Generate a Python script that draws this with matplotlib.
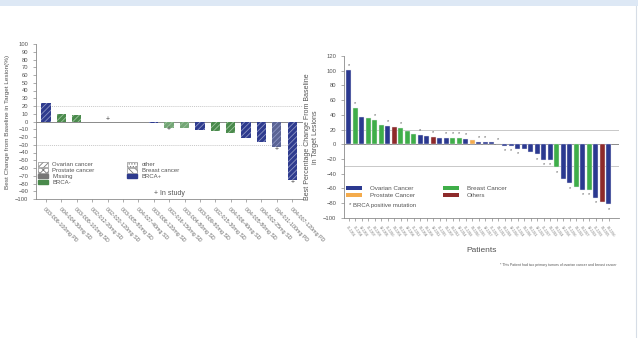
import matplotlib.pyplot as plt
from matplotlib.patches import Patch, Rectangle

# left panel: phase I dose escalation cohort
left_ids = ["003-006-100mg PD", "004-004-30mg SD", "003-008-100mg SD", "002-012-20mg SD",
            "002-020-120mg SD", "003-005-80mg SD", "004-027-40mg SD", "003-006-120mg SD",
            "002-016-150mg SD", "003-004-80mg SD", "003-009-80mg SD", "002-015-30mg SD",
            "004-006-40mg SD", "004-005-80mg SD", "004-002-25mg SD", "004-011-100mg PD",
            "004-007-120mg PD"]
left_change = [23.8, 9.5, 8.2, 0, 0, 0, 0, -2.0, -7.8, -8.7, -10.4, -12.6, -14.3,
               -21.2, -26.4, -32.9, -75.7]
left_group = ["brca+", "brca-", "brca-", "none", "none", "none", "none", "brca+",
              "brca-l", "brca-l", "brca+", "brca-", "brca-", "brca+", "brca+", "missing", "brca+"]
left_in_study = [4, 8, 15, 16]

# right panel: expansion cohort by tumour type
right_ids = ["01-1001", "01-1004", "02-1002", "01-1007", "03-1003", "02-1005", "01-1010",
             "04-1001", "03-1006", "02-1008", "01-1012", "04-1004", "03-1009", "02-1011",
             "01-1015", "04-1007", "03-1012", "02-1014", "01-1018", "04-1010", "03-1015",
             "02-1017", "01-1021", "04-1013", "03-1018", "02-1020", "01-1024", "04-1016",
             "03-1021", "02-1023", "01-1027", "04-1019", "03-1024", "02-1026", "01-1030",
             "04-1022", "03-1027", "02-1029", "01-1033", "04-1025", "03-1030"]
right_change = [101, 49.4, 36.7, 36, 32.6, 26.3, 25, 24, 22.7, 18.6, 13.6, 13, 11.3, 10,
                8.6, 8.6, 8.6, 8.6, 6.8, 5.4, 3.6, 3.6, 2.7, 0.5, -2.3, -2.3, -6.3, -6.3,
                -10.4, -14, -21.3, -21.3, -31.7, -47.6, -53, -58, -62, -62, -72.6, -78.9, -81.6]
right_type = ["ovarian", "breast", "ovarian", "breast", "breast", "breast", "ovarian", "other",
              "breast", "breast", "breast", "ovarian", "ovarian", "other", "ovarian", "ovarian",
              "breast", "breast", "ovarian", "prostate", "ovarian", "ovarian", "ovarian", "ovarian",
              "ovarian", "ovarian", "ovarian", "ovarian", "ovarian", "ovarian", "ovarian", "ovarian",
              "breast", "ovarian", "ovarian", "breast", "ovarian", "breast", "ovarian", "other",
              "ovarian"]
right_brca = [0, 1, 4, 6, 8, 11, 13, 15, 16, 17, 18, 20, 21, 23, 24, 25, 26, 29, 30, 31,
              32, 34, 36, 37, 38, 40]

left_colors = {"brca+": "#2e3b8e", "brca-": "#4a8a4c", "brca-l": "#74a676",
               "missing": "#5b6494", "none": "#ffffff"}
type_colors = {"ovarian": "#2b3990", "breast": "#3fae49", "prostate": "#f4ab4c",
               "other": "#8e2a2a"}
grid_grey = "#c8c8c8"
axis_grey = "#8a8a8a"
text_grey = "#555555"

plt.rcParams["font.family"] = ["Liberation Sans", "DejaVu Sans"]
plt.rcParams["hatch.linewidth"] = 0.6

fig = plt.figure(figsize=(6.38, 3.38), dpi=100)
fig.patches.append(Rectangle((0, 1 - 6 / 338), 1, 6 / 338, transform=fig.transFigure,
                             facecolor="#dde8f5", edgecolor="none"))
fig.add_artist(plt.Line2D([0.997, 0.997], [0, 1 - 6 / 338], transform=fig.transFigure,
                          color="#d6dde6", lw=0.8))


def style_axes(ax):
    for side in ("top", "right"):
        ax.spines[side].set_visible(False)
    for side in ("left", "bottom"):
        ax.spines[side].set_color(axis_grey)
        ax.spines[side].set_linewidth(0.6)
    ax.tick_params(colors=axis_grey, labelcolor=text_grey, width=0.5, length=2, labelsize=4.2)


# ---- left waterfall ----
ax1 = fig.add_axes([36 / 638, 1 - 199 / 338, 267 / 638, 155 / 338])
style_axes(ax1)
xs = list(range(len(left_change)))
for x, v, g in zip(xs, left_change, left_group):
    if g == "none":
        continue
    c = left_colors[g]
    ax1.bar(x, v, width=0.6, color=c, hatch="//////", edgecolor="#8d95c4" if "brca+" in g or g == "missing" else "#9cc39d",
            linewidth=0, zorder=3)
ax1.axhline(0, color=axis_grey, lw=0.7, zorder=2)
ax1.axhline(20, color=grid_grey, lw=0.7, ls=(0, (1, 1)), zorder=1)
ax1.axhline(-30, color=grid_grey, lw=0.7, ls=(0, (1, 1)), zorder=1)
for i in left_in_study:
    v = left_change[i]
    y = 2 if v >= 0 else v - 3
    ax1.text(i, y, "+", ha="center", va="center", fontsize=5, color="#444444", zorder=4)
ax1.set_ylim(-100, 100)
ax1.set_yticks(range(-100, 101, 10))
ax1.set_xlim(-0.65, 16.7)
ax1.set_xticks(xs)
ax1.set_xticklabels(left_ids, rotation=-45, ha="left", va="top", rotation_mode="anchor",
                    fontsize=3.8, color="#666666")
ax1.set_ylabel("Best Change from Baseline in Target Lesion(%)", fontsize=4.6,
               color=text_grey, labelpad=4)
ax1.text(7.0, -98, "+ In study", fontsize=5, color=text_grey, ha="left", va="bottom")

left_handles = [
    Patch(facecolor="white", edgecolor="#777777", hatch="//////", lw=0.4, label="Ovarian cancer"),
    Patch(facecolor="white", edgecolor="#777777", hatch="xxxxx", lw=0.4, label="Prostate cancer"),
    Patch(facecolor="#777777", edgecolor="#777777", label="Missing"),
    Patch(facecolor="#4a8a4c", edgecolor="#4a8a4c", label="BRCA-"),
    Patch(facecolor="white", edgecolor="#777777", hatch="......", lw=0.4, label="other"),
    Patch(facecolor="white", edgecolor="#777777", hatch="\\\\\\\\\\", lw=0.4, label="Breast cancer"),
    Patch(facecolor="#2e3b8e", edgecolor="#2e3b8e", label="BRCA+"),
]
leg1 = fig.legend(handles=left_handles, ncol=2, loc="upper left",
                  bbox_to_anchor=(38 / 638, 1 - 162 / 338), frameon=False, fontsize=4.3,
                  handlelength=1.6, handleheight=0.8, labelspacing=0.1, columnspacing=5.5,
                  handletextpad=0.8, borderaxespad=0, borderpad=0)
for t in leg1.get_texts():
    t.set_color(text_grey)

# ---- right waterfall ----
ax2 = fig.add_axes([344 / 638, 1 - 217.7 / 338, 275 / 638, 161.7 / 338])
style_axes(ax2)
xr = list(range(len(right_change)))
ax2.bar(xr, right_change, width=0.77, color=[type_colors[t] for t in right_type],
        edgecolor="#e8e8f0", linewidth=0.3, zorder=3)
ax2.axhline(0, color=axis_grey, lw=0.7, zorder=2)
ax2.axhline(20, color=grid_grey, lw=0.7, zorder=1)
ax2.axhline(-30, color=grid_grey, lw=0.7, zorder=1)
for i in right_brca:
    v = right_change[i]
    y = v + 6 if v > 0 else v - 7
    ax2.text(i, y, "*", ha="center", va="center", fontsize=4, color="#555555", zorder=4)
ax2.set_ylim(-100, 120)
ax2.set_yticks(range(-100, 121, 20))
ax2.set_xlim(-0.7, 41.6)
ax2.set_xticks(xr)
ax2.set_xticklabels(right_ids, rotation=-55, ha="left", va="top", rotation_mode="anchor",
                    fontsize=2.4, color="#777777")
ax2.set_ylabel("Best Percentage Change From Baseline\nin Target Lesions", fontsize=5,
               color=text_grey, labelpad=3)
ax2.set_xlabel("Patients", fontsize=6, color=text_grey, labelpad=7)

right_handles = [Patch(facecolor=type_colors["ovarian"], label="Ovarian Cancer"),
                 Patch(facecolor=type_colors["prostate"], label="Prostate Cancer"),
                 Patch(facecolor=type_colors["breast"], label="Breast Cancer"),
                 Patch(facecolor=type_colors["other"], label="Others")]
leg2 = fig.legend(handles=right_handles, ncol=2, loc="upper left",
                  bbox_to_anchor=(346 / 638, 1 - 186 / 338), frameon=False, fontsize=4.5,
                  handlelength=2.6, handleheight=0.7, labelspacing=0.25, columnspacing=4.5,
                  handletextpad=1.2, borderaxespad=0, borderpad=0)
for t in leg2.get_texts():
    t.set_color(text_grey)
fig.text(349 / 638, 1 - 206 / 338, "* BRCA positive mutation", fontsize=4.3,
         color=text_grey, va="center")
fig.text(617 / 638, 1 - 265 / 338,
         "* This Patient had two primary tumors of ovarian cancer and breast cancer",
         fontsize=2.5, color=text_grey, ha="right", va="center")

fig.savefig("out.png", dpi=100, facecolor="white")
